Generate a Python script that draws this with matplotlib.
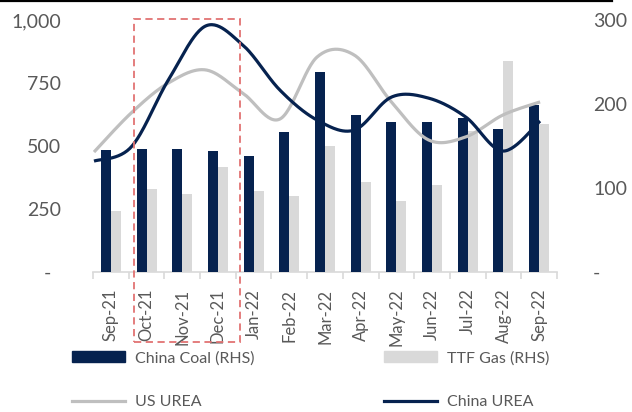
import matplotlib
matplotlib.use("Agg")
import matplotlib.pyplot as plt
import matplotlib.patches as mpatches
from matplotlib.lines import Line2D
import numpy as np

NAVY      = "#06224f"
BAR_GREY  = "#d9d9d9"
LINE_GREY = "#bfbfbf"
TEXT      = "#595959"
RED       = "#e27373"
W, H      = 632, 412

plt.rcParams["font.family"] = ["Lato", "DejaVu Sans"]

months = ["Sep-21", "Oct-21", "Nov-21", "Dec-21", "Jan-22", "Feb-22", "Mar-22",
          "Apr-22", "May-22", "Jun-22", "Jul-22", "Aug-22", "Sep-22"]
# bars, right-hand scale
china_coal = [145, 146, 146, 144, 138, 167, 238, 187, 179, 179, 183, 170, 199]
ttf_gas    = [73, 99, 93, 125, 96, 90, 150, 107, 85, 103, 168, 251, 176]
# lines, left-hand scale
us_urea    = [476, 631, 750, 802, 710, 607, 853, 861, 675, 524, 536, 623, 675]
china_urea = [440, 496, 762, 976, 901, 722, 603, 563, 694, 690, 615, 480, 599]


def smooth(y, n=30):
    # Catmull-Rom curve through the points, like Excel's smoothed line
    y = np.asarray(y, float)
    x = np.arange(len(y), dtype=float)
    px = np.concatenate([[x[0]], x, [x[-1]]])
    py = np.concatenate([[y[0]], y, [y[-1]]])
    t = np.linspace(0, 1, n)[:, None]
    xs, ys = [], []
    for i in range(len(y) - 1):
        for p, out in ((px, xs), (py, ys)):
            p0, p1, p2, p3 = p[i], p[i + 1], p[i + 2], p[i + 3]
            seg = 0.5 * (2 * p1 + (-p0 + p2) * t + (2 * p0 - 5 * p1 + 4 * p2 - p3) * t ** 2
                         + (-p0 + 3 * p1 - 3 * p2 + p3) * t ** 3)
            out.append(seg.ravel())
    return np.concatenate(xs), np.concatenate(ys)


fig = plt.figure(figsize=(W / 100, H / 100), dpi=100)
rect = [93 / W, 140 / H, 464 / W, 252 / H]

ax = fig.add_axes(rect)
ax.set_xlim(-0.5, 12.5)
ax.set_ylim(0, 1000)
x = np.arange(len(months))
ax.set_xticks(x)
ax.set_xticklabels(months, rotation=90, va="top", ha="center")
ax.set_xticks(np.arange(-0.5, 13, 1), minor=True)
ax.tick_params(axis="x", which="major", length=0, pad=12, labelsize=12, labelcolor=TEXT)
ax.tick_params(axis="x", which="minor", length=5, width=1.2, color=BAR_GREY)
ax.set_yticks([0, 250, 500, 750, 1000])
ax.set_yticklabels(["-  ", "250", "500", "750", "1,000"])
ax.tick_params(axis="y", length=0, pad=23, labelsize=14, labelcolor=TEXT)
for sp in ("top", "right", "left"):
    ax.spines[sp].set_visible(False)
ax.spines["bottom"].set_color(BAR_GREY)
ax.spines["bottom"].set_linewidth(1.2)

axr = ax.twinx()
axr.set_ylim(0, 300)
axr.bar(x - 0.14, china_coal, 0.28, color=NAVY)
axr.bar(x + 0.14, ttf_gas, 0.28, color=BAR_GREY)
axr.set_yticks([0, 100, 200, 300])
axr.set_yticklabels(["-", "100", "200", "300"])
axr.tick_params(axis="y", length=0, pad=26, labelsize=14, labelcolor=TEXT)
for sp in axr.spines.values():
    sp.set_visible(False)

# lines sit on their own category axis, as in the source workbook
axl = fig.add_axes(rect)
axl.set_xlim(-0.027, 12.455)
axl.set_ylim(0, 1000)
axl.axis("off")
axl.plot(*smooth(us_urea), color=LINE_GREY, lw=2.3, solid_capstyle="butt")
axl.plot(*smooth(china_urea), color=NAVY, lw=2.3, solid_capstyle="butt")

# legend, two columns
leg_kw = dict(frameon=False, fontsize=11.5, labelcolor=TEXT, handlelength=3.3,
              handleheight=0.65, handletextpad=0.65, labelspacing=1.86,
              borderpad=0, borderaxespad=0, loc="upper left")
leg1 = fig.legend(handles=[mpatches.Patch(color=NAVY, label="China Coal (RHS)"),
                           Line2D([], [], color=LINE_GREY, lw=2.3, label="US UREA")],
                  bbox_to_anchor=(72 / W, 1 - 351 / H), **leg_kw)
leg2 = fig.legend(handles=[mpatches.Patch(color=BAR_GREY, label="TTF Gas (RHS)"),
                           Line2D([], [], color=NAVY, lw=2.3, label="China UREA")],
                  bbox_to_anchor=(384 / W, 1 - 351 / H), **leg_kw)

# highlight box over Oct-Dec 21
fig.add_artist(mpatches.Rectangle((134 / W, 1 - 342 / H), 106 / W, 323 / H,
                                  transform=fig.transFigure, fill=False, ec=RED,
                                  lw=1.3, ls=(0, (4, 2.5)), zorder=10))
# rule across the top
fig.add_artist(Line2D([0, 612 / W], [1 - 1 / H, 1 - 1 / H], color="black", lw=1.6,
                      transform=fig.transFigure))

fig.savefig("out.png", dpi=100, facecolor="white")
